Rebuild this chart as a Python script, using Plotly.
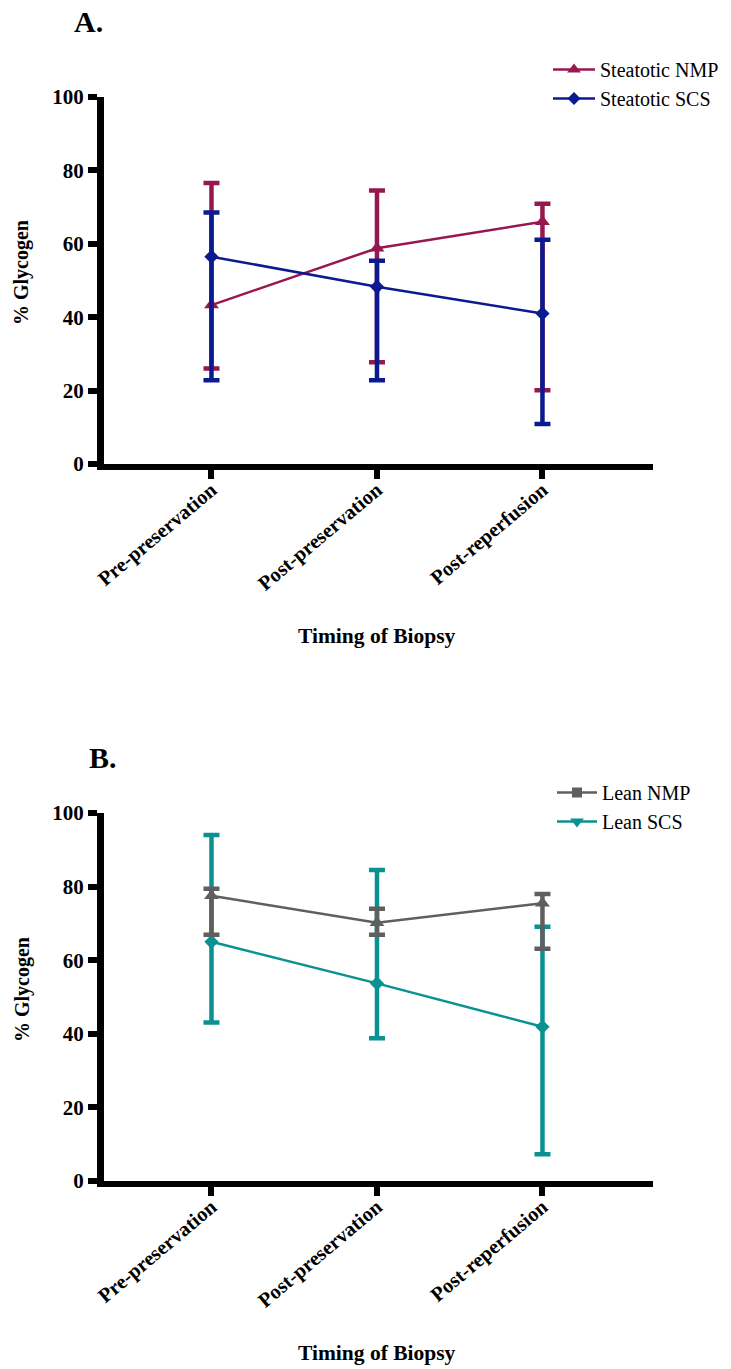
import plotly.graph_objects as go

W, H = 731, 1369
categories = ["Pre-preservation", "Post-preservation", "Post-reperfusion"]
xpos = [0, 1, 2]

# Panel A: steatotic
steat_nmp = [43.3, 58.8, 66.0]
steat_nmp_hi = [76.6, 74.5, 70.9]
steat_nmp_lo = [26.0, 27.7, 20.1]
steat_scs = [56.5, 48.3, 41.0]
steat_scs_hi = [68.5, 55.4, 61.1]
steat_scs_lo = [22.8, 22.8, 10.9]

# Panel B: lean
lean_nmp = [77.5, 70.2, 75.5]
lean_nmp_hi = [79.4, 74.0, 78.0]
lean_nmp_lo = [66.9, 66.9, 63.1]
lean_scs = [65.0, 53.7, 41.9]
lean_scs_hi = [94.0, 84.5, 69.1]
lean_scs_lo = [43.1, 38.8, 7.3]

yticks = [0, 20, 40, 60, 80, 100]

C_NMP = "#97184f"
C_SCS = "#0c1a8f"
C_LNMP = "#5f5f5f"
C_LSCS = "#0a9191"
FONT = "Liberation Serif"


def py(p):
    return 1 - p / H


def px(p):
    return p / W


fig = go.Figure()


def add_series(y, hi, lo, color, symbol, size, xa, ya):
    fig.add_trace(go.Scatter(
        x=xpos, y=y, mode="lines+markers", xaxis=xa, yaxis=ya, showlegend=False,
        line=dict(color=color, width=2.5),
        marker=dict(symbol=symbol, size=size, color=color),
        error_y=dict(type="data", symmetric=False,
                     array=[h - v for h, v in zip(hi, y)],
                     arrayminus=[v - l for v, l in zip(y, lo)],
                     color=color, thickness=4.5, width=8),
    ))


def add_legend(name, color, symbol, size, legend):
    fig.add_trace(go.Scatter(
        x=[None], y=[None], mode="lines+markers", name=name, legend=legend,
        line=dict(color=color, width=2.5),
        marker=dict(symbol=symbol, size=size, color=color),
    ))


add_series(steat_nmp, steat_nmp_hi, steat_nmp_lo, C_NMP, "triangle-up", 13, "x", "y")
add_series(steat_scs, steat_scs_hi, steat_scs_lo, C_SCS, "diamond", 11, "x", "y")
add_series(lean_scs, lean_scs_hi, lean_scs_lo, C_LSCS, "diamond", 11, "x2", "y2")
add_series(lean_nmp, lean_nmp_hi, lean_nmp_lo, C_LNMP, "triangle-up", 13, "x2", "y2")

add_legend("Steatotic NMP", C_NMP, "triangle-up", 12, "legend")
add_legend("Steatotic SCS", C_SCS, "diamond", 10, "legend")
add_legend("Lean NMP", C_LNMP, "square", 10, "legend2")
add_legend("Lean SCS", C_LSCS, "triangle-down", 12, "legend2")

xtickfont = dict(family=FONT, size=20.5, color="black")
ytickfont = dict(family=FONT, size=21, color="black")
xaxis_common = dict(
    range=[-0.6495, 2.668], tickvals=xpos,
    ticktext=["<b>%s</b>" % c for c in categories],
    tickangle=-40, tickfont=xtickfont, ticklabelstandoff=-9,
    showline=True, linecolor="black", linewidth=6,
    ticks="outside", ticklen=9, tickwidth=6, tickcolor="black",
    showgrid=False, zeroline=False, domain=[px(104), px(653)],
)
yaxis_common = dict(
    range=[0, 100], tickvals=yticks,
    ticktext=["<b>%d</b>" % t for t in yticks], tickfont=ytickfont,
    showline=True, linecolor="black", linewidth=7,
    ticks="outside", ticklen=9, tickwidth=6, tickcolor="black",
    showgrid=False, zeroline=False,
)

fig.update_layout(
    width=W, height=H, margin=dict(l=0, r=0, t=0, b=0, autoexpand=False),
    plot_bgcolor="white", paper_bgcolor="white",
    xaxis=dict(xaxis_common, anchor="y"),
    yaxis=dict(yaxis_common, anchor="x", domain=[py(464), py(97)]),
    xaxis2=dict(xaxis_common, anchor="y2"),
    yaxis2=dict(yaxis_common, anchor="x2", domain=[py(1181), py(813)]),
    legend=dict(x=px(548), y=py(50), xanchor="left", yanchor="top",
                font=dict(family=FONT, size=20, color="black"),
                bgcolor="rgba(0,0,0,0)", itemwidth=42),
    legend2=dict(x=px(552), y=py(773), xanchor="left", yanchor="top",
                 font=dict(family=FONT, size=20, color="black"),
                 bgcolor="rgba(0,0,0,0)", itemwidth=40),
)

ann = [
    ("<b>A.</b>", 88.5, 22, 30, 0),
    ("<b>B.</b>", 103, 757, 30, 0),
    ("<b>Timing of Biopsy</b>", 377, 636, 21.5, 0),
    ("<b>Timing of Biopsy</b>", 377, 1353, 21.5, 0),
    ("<b>% Glycogen</b>", 22, 273, 20, -90),
    ("<b>% Glycogen</b>", 22, 990, 20, -90),
]
for text, x, y, size, ang in ann:
    fig.add_annotation(text=text, x=px(x), y=py(y), xref="paper", yref="paper",
                       showarrow=False, textangle=ang, xanchor="center", yanchor="middle",
                       font=dict(family=FONT, size=size, color="black"))

fig.write_html("out.html")
